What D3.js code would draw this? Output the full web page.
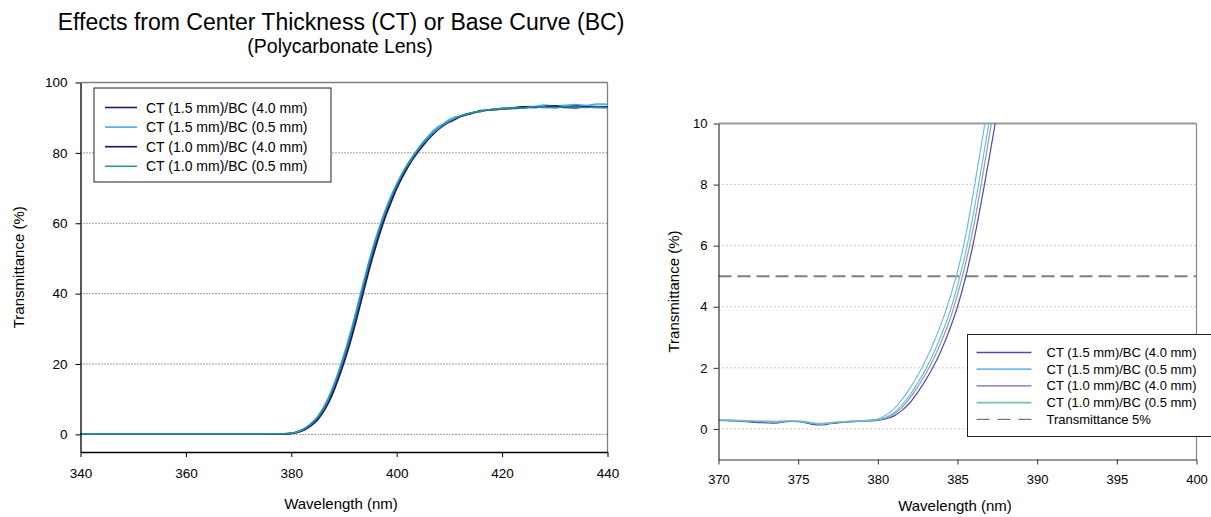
<!DOCTYPE html>
<html>
<head>
<meta charset="utf-8">
<script src="https://cdn.jsdelivr.net/npm/d3@7"></script>
<style>
  body { margin: 0; background: #fff; }
  text { font-family: "Liberation Sans", Arial, sans-serif; fill: #000; }
</style>
</head>
<body>
<svg id="chart" width="1211" height="517"></svg>
<script>
// ---- data ----
const seriesNames = [
  "CT (1.5 mm)/BC (4.0 mm)",
  "CT (1.5 mm)/BC (0.5 mm)",
  "CT (1.0 mm)/BC (4.0 mm)",
  "CT (1.0 mm)/BC (0.5 mm)"
];
const leftColors = ["#1c1c6c", "#4da6f8", "#121275", "#2f9494"];
const rightColors = ["#4d4da8", "#74b8f2", "#9696c6", "#6cc6b6"];

// full range spectrum (left panel)
const wideWave = [340, 350, 360, 370, 378, 380, 381, 382, 383, 384, 385, 386, 387, 388, 389, 390,
  391, 392, 393, 394, 395, 396, 397, 398, 399, 400, 401, 402, 403, 404, 405, 406, 407, 408, 409, 410,
  411, 412, 413, 414, 415, 416, 417, 418, 419, 420, 422, 424, 426, 428, 430, 432, 434, 436, 438, 440];
const wideS1 = [0.1, 0.1, 0.1, 0.1, 0.15, 0.25, 0.5, 0.95, 1.7, 2.8, 4.2, 6.2, 8.8, 12.1, 16.0, 20.4,
  25.2, 30.5, 36.3, 42.2, 48.0, 53.2, 58.0, 62.4, 66.2, 69.8, 72.9, 75.6, 78.1, 80.2, 82.1, 83.9, 85.4, 86.8, 87.9, 88.8,
  89.6, 90.3, 90.7, 91.2, 91.6, 91.8, 92.1, 92.3, 92.3, 92.5, 92.6, 92.8, 93.0, 92.9, 93.1, 92.9, 92.8, 93.1, 92.9, 93.0];
const wideS2 = [0.2, 0.2, 0.2, 0.2, 0.2, 0.35, 0.7, 1.3, 2.2, 3.5, 5.1, 7.4, 10.3, 13.9, 18.1, 22.7,
  27.8, 33.3, 39.2, 45.0, 50.6, 55.6, 60.2, 64.3, 68.0, 71.2, 74.1, 76.7, 79.0, 81.1, 83.1, 84.8, 86.4, 87.6, 88.4, 89.5,
  90.2, 90.4, 91.0, 91.4, 91.5, 91.9, 92.1, 92.2, 92.5, 92.6, 92.9, 93.1, 93.2, 93.6, 93.3, 93.5, 93.7, 93.5, 93.9, 93.8];
const wideS3 = [0.15, 0.15, 0.15, 0.15, 0.15, 0.3, 0.6, 1.1, 1.95, 3.1, 4.6, 6.8, 9.5, 13.0, 17.0, 21.5,
  26.5, 31.9, 37.8, 43.6, 49.3, 54.4, 59.1, 63.3, 67.1, 70.5, 73.5, 76.1, 78.5, 80.5, 82.4, 84.0, 85.6, 86.9, 88.0, 88.8,
  89.5, 90.3, 90.9, 91.1, 91.6, 92.0, 92.1, 92.3, 92.4, 92.6, 92.7, 93.1, 92.9, 93.2, 93.4, 93.0, 93.3, 93.1, 93.2, 93.1];
const wideS4 = [0.15, 0.15, 0.15, 0.15, 0.18, 0.32, 0.65, 1.2, 2.05, 3.3, 4.8, 7.0, 9.8, 13.4, 17.5, 22.0,
  27.0, 32.5, 38.4, 44.2, 49.9, 55.0, 59.6, 63.8, 67.5, 70.8, 73.8, 76.4, 78.7, 80.8, 82.7, 84.3, 85.8, 87.0, 88.1, 89.0,
  89.8, 90.5, 90.9, 91.3, 91.7, 91.9, 92.2, 92.3, 92.5, 92.6, 92.8, 92.7, 93.1, 93.0, 92.8, 93.1, 93.0, 92.9, 93.0, 92.8];

// cut-off detail (right panel)
const zoomWave = [370, 370.5, 371, 371.5, 372, 372.5, 373, 373.5, 374, 374.5, 375, 375.5, 376, 376.5, 377, 377.5,
  378, 378.5, 379, 379.5, 380, 380.5, 381, 381.5, 382, 382.5, 383, 383.5, 384, 384.5, 385, 385.5, 386, 386.5, 387, 387.5];
const zoomS1 = [0.28, 0.27, 0.26, 0.25, 0.22, 0.21, 0.20, 0.19, 0.22, 0.25, 0.24, 0.20, 0.14, 0.13, 0.17, 0.20,
  0.22, 0.24, 0.25, 0.26, 0.28, 0.33, 0.42, 0.60, 0.85, 1.20, 1.60, 2.05, 2.60, 3.25, 4.00, 4.95, 6.10, 7.45, 8.90, 10.4];
const zoomS2 = [0.29, 0.28, 0.27, 0.27, 0.26, 0.25, 0.24, 0.23, 0.25, 0.26, 0.25, 0.22, 0.17, 0.16, 0.19, 0.22,
  0.24, 0.25, 0.26, 0.28, 0.33, 0.45, 0.65, 0.95, 1.32, 1.75, 2.25, 2.82, 3.48, 4.25, 5.15, 6.30, 7.75, 9.30, 10.9, 12.5];
const zoomS3 = [0.30, 0.29, 0.27, 0.26, 0.25, 0.24, 0.23, 0.22, 0.24, 0.26, 0.26, 0.23, 0.18, 0.17, 0.20, 0.22,
  0.24, 0.26, 0.27, 0.28, 0.30, 0.36, 0.48, 0.70, 1.00, 1.38, 1.80, 2.30, 2.88, 3.55, 4.40, 5.40, 6.60, 8.05, 9.60, 11.2];
const zoomS4 = [0.30, 0.30, 0.29, 0.28, 0.27, 0.26, 0.26, 0.25, 0.26, 0.27, 0.26, 0.24, 0.19, 0.18, 0.21, 0.23,
  0.25, 0.26, 0.27, 0.29, 0.31, 0.38, 0.52, 0.78, 1.10, 1.50, 1.95, 2.48, 3.10, 3.80, 4.70, 5.75, 7.05, 8.55, 10.1, 11.8];

const leftXTicks = [340, 360, 380, 400, 420, 440];
const leftYTicks = [0, 20, 40, 60, 80, 100];
const rightXTicks = [370, 375, 380, 385, 390, 395, 400];
const rightYTicks = [0, 2, 4, 6, 8, 10];
const limitValue = 5;
const limitLabel = "Transmittance 5%";

const svg = d3.select("#chart");

// ---- titles ----
svg.append("text")
  .attr("x", 341).attr("y", 30)
  .attr("text-anchor", "middle")
  .attr("font-size", "23px")
  .text("Effects from Center Thickness (CT) or Base Curve (BC)");

svg.append("text")
  .attr("x", 340).attr("y", 53)
  .attr("text-anchor", "middle")
  .attr("font-size", "19.5px")
  .text("(Polycarbonate Lens)");

// ---- left panel ----
const L = { left: 80.5, right: 607.5, top: 82.5, bottom: 452 };
const xL = d3.scaleLinear().domain([340, 440]).range([L.left, L.right]);
const yL = d3.scaleLinear().domain([-5, 100]).range([L.bottom, L.top]);
const gL = svg.append("g");

// dotted grid
gL.selectAll(".grid").data([0, 20, 40, 60, 80]).enter().append("line")
  .attr("x1", L.left).attr("x2", L.right)
  .attr("y1", d => yL(d)).attr("y2", d => yL(d))
  .attr("stroke", "#444").attr("stroke-width", 1)
  .attr("stroke-dasharray", "1,2");

// frame top / right
gL.append("line").attr("x1", L.left).attr("x2", L.right).attr("y1", L.top).attr("y2", L.top)
  .attr("stroke", "#808080").attr("stroke-width", 1.3);
gL.append("line").attr("x1", L.right).attr("x2", L.right).attr("y1", L.top).attr("y2", L.bottom)
  .attr("stroke", "#808080").attr("stroke-width", 1.3);

const wideSeries = [wideS1, wideS2, wideS3, wideS4];
const lineL = d3.line().curve(d3.curveMonotoneX).x(d => xL(d[0])).y(d => yL(d[1]));
wideSeries.forEach((vals, i) => {
  gL.append("path")
    .datum(wideWave.map((w, j) => [w, vals[j]]))
    .attr("fill", "none")
    .attr("stroke", leftColors[i])
    .attr("stroke-width", 1.6)
    .attr("d", lineL);
});

const axLX = gL.append("g").attr("transform", `translate(0,${L.bottom})`)
  .call(d3.axisBottom(xL).tickValues(leftXTicks).tickSize(5).tickPadding(11).tickSizeOuter(0));
const axLY = gL.append("g").attr("transform", `translate(${L.left},0)`)
  .call(d3.axisLeft(yL).tickValues(leftYTicks).tickSize(5).tickPadding(8).tickSizeOuter(0));
[axLX, axLY].forEach(a => {
  a.selectAll("text").attr("font-size", "13.5px").attr("fill", "#000")
    .attr("font-family", "Liberation Sans, Arial, sans-serif");
  a.select(".domain").attr("stroke", "#000").attr("stroke-width", 1.3);
  a.selectAll(".tick line").attr("stroke", "#000");
});

svg.append("text")
  .attr("x", 341).attr("y", 509)
  .attr("text-anchor", "middle").attr("font-size", "15px")
  .text("Wavelength (nm)");
svg.append("text")
  .attr("transform", `translate(24,${(L.top + L.bottom) / 2}) rotate(-90)`)
  .attr("text-anchor", "middle").attr("font-size", "15px")
  .text("Transmittance (%)");

// left legend
const legL = gL.append("g").attr("transform", "translate(94,88)");
legL.append("rect").attr("width", 237).attr("height", 94)
  .attr("fill", "#fff").attr("stroke", "#222").attr("stroke-width", 1);
seriesNames.forEach((name, i) => {
  const yy = 19.5 + i * 19.6;
  legL.append("line").attr("x1", 11).attr("x2", 43).attr("y1", yy).attr("y2", yy)
    .attr("stroke", leftColors[i]).attr("stroke-width", 1.6);
  legL.append("text").attr("x", 52).attr("y", yy + 5)
    .attr("font-size", "14px").text(name);
});

// ---- right panel ----
const R = { left: 718.5, right: 1196.5, top: 123.5, bottom: 459.5 };
const xR = d3.scaleLinear().domain([370, 400]).range([R.left, R.right]);
const yR = d3.scaleLinear().domain([-1, 10]).range([R.bottom, R.top]);
const gR = svg.append("g");

gR.append("clipPath").attr("id", "clipR").append("rect")
  .attr("x", R.left).attr("y", R.top).attr("width", R.right - R.left).attr("height", R.bottom - R.top);

gR.selectAll(".grid").data([0, 2, 4, 6, 8]).enter().append("line")
  .attr("x1", R.left).attr("x2", R.right)
  .attr("y1", d => yR(d)).attr("y2", d => yR(d))
  .attr("stroke", "#999").attr("stroke-width", 1)
  .attr("stroke-dasharray", "1,3");

gR.append("line").attr("x1", R.left).attr("x2", R.right).attr("y1", R.top).attr("y2", R.top)
  .attr("stroke", "#9a9a9a").attr("stroke-width", 2);
gR.append("line").attr("x1", R.right).attr("x2", R.right).attr("y1", R.top).attr("y2", R.bottom)
  .attr("stroke", "#8a8a8a").attr("stroke-width", 1.2);

// 5% limit line
gR.append("line")
  .attr("x1", R.left).attr("x2", R.right)
  .attr("y1", yR(limitValue)).attr("y2", yR(limitValue))
  .attr("stroke", "#808080").attr("stroke-width", 1.8)
  .attr("stroke-dasharray", "13,6");

const zoomSeries = [zoomS1, zoomS2, zoomS3, zoomS4];
const lineR = d3.line().curve(d3.curveMonotoneX).x(d => xR(d[0])).y(d => yR(d[1]));
const curvesR = gR.append("g").attr("clip-path", "url(#clipR)");
zoomSeries.forEach((vals, i) => {
  curvesR.append("path")
    .datum(zoomWave.map((w, j) => [w, vals[j]]))
    .attr("fill", "none")
    .attr("stroke", rightColors[i])
    .attr("stroke-width", 1.2)
    .attr("d", lineR);
});

const axRX = gR.append("g").attr("transform", `translate(0,${R.bottom})`)
  .call(d3.axisBottom(xR).tickValues(rightXTicks).tickSize(5).tickPadding(10).tickSizeOuter(0));
const axRY = gR.append("g").attr("transform", `translate(${R.left},0)`)
  .call(d3.axisLeft(yR).tickValues(rightYTicks).tickSize(5).tickPadding(6).tickSizeOuter(0));
[axRX, axRY].forEach(a => {
  a.selectAll("text").attr("font-size", "13px").attr("fill", "#000")
    .attr("font-family", "Liberation Sans, Arial, sans-serif");
  a.select(".domain").attr("stroke", "#333").attr("stroke-width", 1.2);
  a.selectAll(".tick line").attr("stroke", "#333");
});

svg.append("text")
  .attr("x", 955).attr("y", 511)
  .attr("text-anchor", "middle").attr("font-size", "15px")
  .text("Wavelength (nm)");
svg.append("text")
  .attr("transform", `translate(679,${(R.top + R.bottom) / 2}) rotate(-90)`)
  .attr("text-anchor", "middle").attr("font-size", "15px")
  .text("Transmittance (%)");

// right legend
const legR = gR.append("g").attr("transform", "translate(967.5,334.5)");
legR.append("rect").attr("width", 250).attr("height", 102)
  .attr("fill", "#fff").attr("stroke", "#222").attr("stroke-width", 1);
seriesNames.concat([limitLabel]).forEach((name, i) => {
  const yy = 18 + i * 16.7;
  const item = legR.append("line").attr("x1", 9).attr("x2", 64).attr("y1", yy).attr("y2", yy);
  if (i < 4) {
    item.attr("stroke", rightColors[i]).attr("stroke-width", 1.7);
  } else {
    item.attr("stroke", "#555").attr("stroke-width", 1).attr("stroke-dasharray", "13,8");
  }
  legR.append("text").attr("x", 79).attr("y", yy + 4.5)
    .attr("font-size", "13px").text(name);
});
</script>
</body>
</html>
